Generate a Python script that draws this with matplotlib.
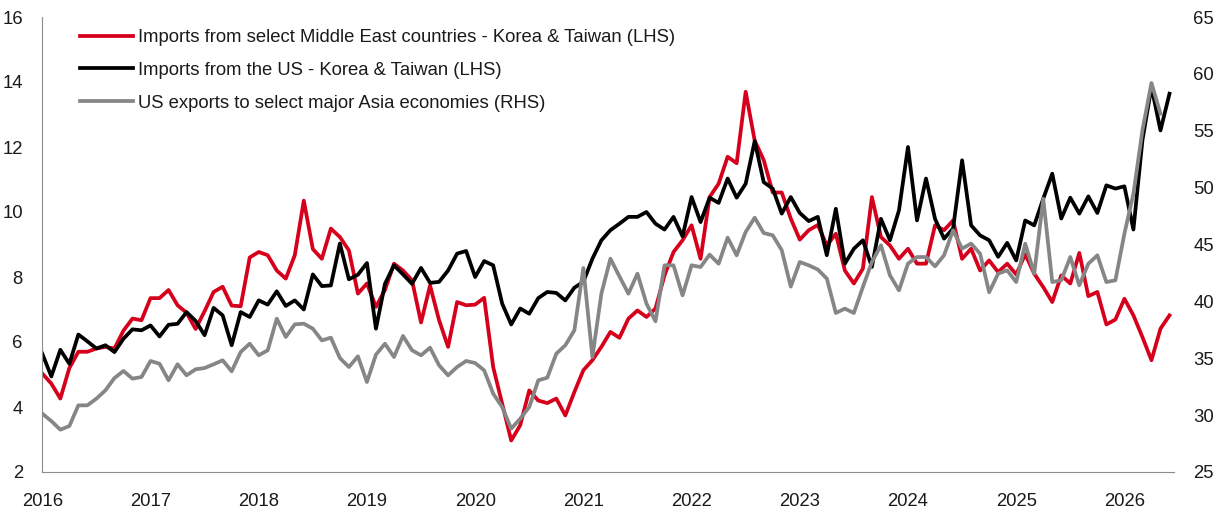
import numpy as np
import matplotlib
matplotlib.use("Agg")
import matplotlib.pyplot as plt

# monthly data, Jan 2016 onwards (index 0 = Jan 2016)
middle_east = [5.03, 4.72, 4.26, 5.2, 5.7, 5.7, 5.8, 5.85, 5.8, 6.35, 6.72, 6.67,
               7.35, 7.35, 7.6, 7.13, 6.9, 6.4, 6.95, 7.54, 7.7, 7.12, 7.1, 8.6,
               8.77, 8.67, 8.2, 7.95, 8.67, 10.35, 8.86, 8.56, 9.49, 9.23, 8.82, 7.49,
               7.8, 7.08, 7.6, 8.41, 8.2, 7.9, 6.6, 7.74, 6.67, 5.85, 7.23, 7.13,
               7.15, 7.36, 5.23, 4.1, 2.97, 3.44, 4.51, 4.2, 4.12, 4.26, 3.74, 4.46,
               5.13, 5.44, 5.85, 6.31, 6.13, 6.72, 6.97, 6.77, 7.03, 8.05, 8.77, 9.13,
               9.59, 8.56, 10.46, 10.87, 11.7, 11.5, 13.7, 12.2, 11.6, 10.6, 10.6, 9.8,
               9.15, 9.44, 9.6, 8.97, 9.33, 8.2, 7.8, 8.26, 10.46, 9.23, 8.97, 8.56,
               8.87, 8.41, 8.41, 9.59, 9.44, 9.74, 8.56, 8.87, 8.2, 8.51, 8.15, 8.41,
               8.08, 8.7, 8.1, 7.69, 7.23, 8.05, 7.8, 8.74, 7.41, 7.54, 6.54, 6.69,
               7.33, 6.82, 6.15, 5.44, 6.41, 6.82]

from_us = [5.64, 4.94, 5.76, 5.33, 6.23, 6.02, 5.8, 5.9, 5.69, 6.1, 6.39, 6.36,
           6.51, 6.17, 6.53, 6.56, 6.92, 6.65, 6.21, 7.05, 6.82, 5.9, 6.92, 6.77,
           7.28, 7.15, 7.56, 7.11, 7.28, 7.0, 8.08, 7.72, 7.74, 9.03, 7.93, 8.07,
           8.43, 6.41, 7.79, 8.36, 8.08, 7.79, 8.28, 7.82, 7.85, 8.2, 8.72, 8.8,
           8.0, 8.49, 8.36, 7.18, 6.54, 7.03, 6.87, 7.35, 7.54, 7.51, 7.28, 7.67,
           7.85, 8.56, 9.13, 9.44, 9.64, 9.85, 9.85, 10.0, 9.64, 9.46, 9.85, 9.25,
           10.46, 9.69, 10.44, 10.28, 11.03, 10.44, 10.87, 12.18, 10.92, 10.72, 9.95, 10.46,
           9.97, 9.72, 9.85, 8.67, 10.1, 8.41, 8.87, 9.13, 8.31, 9.79, 9.13, 10.05,
           12.0, 9.74, 11.03, 9.79, 9.18, 9.49, 11.59, 9.59, 9.28, 9.13, 8.62, 9.05,
           8.51, 9.74, 9.59, 10.41, 11.18, 9.8, 10.44, 9.95, 10.48, 9.97, 10.82, 10.72,
           10.79, 9.46, 12.21, 13.85, 12.51, 13.64]

us_exports = [30.13, 29.48, 28.72, 29.04, 30.86, 30.86, 31.45, 32.18, 33.26, 33.88, 33.21, 33.35,
              34.76, 34.52, 33.06, 34.47, 33.5, 34.03, 34.14, 34.47, 34.82, 33.85, 35.55, 36.28,
              35.26, 35.7, 38.48, 36.87, 37.98, 38.04, 37.6, 36.57, 36.81, 35.02, 34.23, 35.17,
              32.91, 35.32, 36.28, 35.11, 36.96, 35.7, 35.26, 35.93, 34.38, 33.5, 34.23, 34.76,
              34.58, 33.94, 31.89, 30.71, 28.81, 29.69, 30.71, 33.06, 33.29, 35.4, 36.14, 37.45,
              42.93, 35.11, 40.68, 43.75, 42.2, 40.68, 42.44, 39.8, 38.25, 43.17, 43.17, 40.53,
              43.17, 43.02, 44.11, 43.31, 45.6, 44.05, 46.1, 47.36, 46.01, 45.81, 44.5, 41.3,
              43.46, 43.17, 42.8, 42.0, 38.98, 39.36, 38.98, 41.27, 43.46, 44.93, 42.29, 40.97,
              43.32, 43.9, 43.9, 43.08, 44.05, 46.25, 44.64, 45.08, 44.19, 40.8, 42.44, 42.73,
              41.7, 45.07, 42.44, 49.03, 41.7, 41.85, 43.9, 41.41, 43.31, 44.05, 41.7, 41.85,
              45.95, 49.47, 55.04, 59.2, 56.5]

years = list(range(2016, 2027))

labels = ["Imports from select Middle East countries - Korea & Taiwan (LHS)",
          "Imports from the US - Korea & Taiwan (LHS)",
          "US exports to select major Asia economies (RHS)"]

red = "#D6001C"
grey = "#868686"
spine_col = "#8c8c8c"
text_col = "#1a1a1a"

plt.rcParams["font.family"] = ["Liberation Sans", "DejaVu Sans"]
plt.rcParams["font.size"] = 13

fig = plt.figure(figsize=(12.24, 5.17), dpi=100)
ax = fig.add_axes([42.3 / 1224, 45 / 517, (1174 - 42.3) / 1224, 455 / 517])
ax2 = ax.twinx()

m1 = np.arange(len(middle_east))
m2 = np.arange(len(from_us))
m3 = np.arange(len(us_exports))

lw = 2.7
l1, = ax.plot(m1, middle_east, color=red, lw=lw, label=labels[0])
l2, = ax.plot(m2, from_us, color="black", lw=lw, label=labels[1])
l3, = ax2.plot(m3, us_exports, color=grey, lw=lw, label=labels[2])

ax.set_xlim(0, 125.5)
ax.set_ylim(2, 16)
ax2.set_ylim(25, 65)
ax.set_yticks(range(2, 17, 2))
ax2.set_yticks(range(25, 66, 5))
ax.set_xticks([(y - 2016) * 12 for y in years])
ax.set_xticklabels([str(y) for y in years])

# axis cosmetics: only left + bottom lines, no tick marks
for a in (ax, ax2):
    for s in ("top", "right"):
        a.spines[s].set_visible(False)
    a.tick_params(length=0, colors=text_col, labelsize=13.3)
ax2.spines["left"].set_visible(False)
ax2.spines["bottom"].set_visible(False)
ax.spines["left"].set_color(spine_col)
ax.spines["bottom"].set_color(spine_col)
ax.tick_params(axis="y", pad=14)
ax.tick_params(axis="x", pad=15)
ax2.tick_params(axis="y", pad=14)

fig.legend(handles=[l1, l2, l3], loc="upper left",
           bbox_to_anchor=(80 / 1224, 1 - 29 / 517), frameon=False,
           borderpad=0, borderaxespad=0, handlelength=2.85, handletextpad=0.3,
           labelspacing=0.86, fontsize=13.3, labelcolor=text_col)

fig.savefig("out.png", dpi=100)
